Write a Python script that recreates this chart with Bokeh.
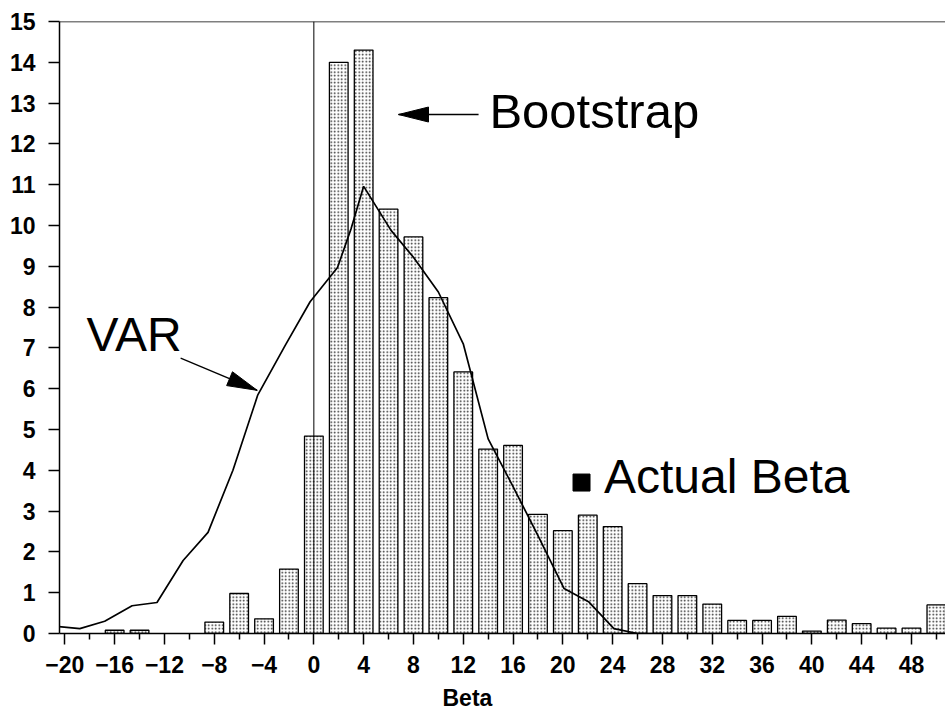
import math
from bokeh.plotting import figure
from bokeh.models import Range1d, FixedTicker, Span, Label, Title
from bokeh.embed import file_html
from bokeh.resources import INLINE

# ---- data ----
bar_x = [-16, -14, -8, -6, -4, -2, 0, 2, 4, 6, 8, 10, 12, 14, 16, 18, 20, 22, 24,
         26, 28, 30, 32, 34, 36, 38, 40, 42, 44, 46, 48, 50]
bar_h = [0.08, 0.08, 0.28, 0.98, 0.36, 1.58, 4.84, 14.0, 14.3, 10.4, 9.72, 8.23, 6.41,
         4.52, 4.61, 2.92, 2.52, 2.9, 2.62, 1.22, 0.93, 0.93, 0.72, 0.32, 0.32, 0.42,
         0.06, 0.33, 0.24, 0.13, 0.13, 0.7]

var_x = [-20.6, -18.8, -16.8, -14.6, -12.6, -10.5, -8.5, -6.5, -4.5, -2.3, -0.3, 1.9,
         3.0, 4.0, 6.2, 8.0, 10.0, 12.0, 14.0, 16.0, 18.0, 20.1, 22.1, 24.1, 26.0, 28.0, 30.0]
var_y = [0.17, 0.12, 0.30, 0.68, 0.76, 1.79, 2.48, 4.0, 5.85, 7.06, 8.13, 8.97,
         9.93, 10.96, 9.88, 9.22, 8.37, 7.1, 4.77, 3.6, 2.4, 1.1, 0.77, 0.12, 0.0, 0.0, 0.0]

x_major = [-20, -16, -12, -8, -4, 0, 4, 8, 12, 16, 20, 24, 28, 32, 36, 40, 44, 48]
x_minor = [-18, -14, -10, -6, -2, 2, 6, 10, 14, 18, 22, 26, 30, 34, 38, 42, 46, 50]
y_ticks = list(range(0, 16))

actual_beta_x = [21.5]
actual_beta_y = [3.70]

# ---- figure ----
W, H = 945, 717
BL, BR, BT, BB = 59, 0, 21, 84
FW = W - BL - BR
FH = H - BT - BB
X0 = -20.43
X1 = X0 + FW / 12.45
Y0, Y1 = 0, 15

p = figure(width=W, height=H, x_range=Range1d(X0, X1), y_range=Range1d(Y0, Y1),
           output_backend="svg", toolbar_location=None,
           min_border_left=BL, min_border_right=BR, min_border_top=BT, min_border_bottom=BB)
p.outline_line_color = None
p.xgrid.visible = False
p.ygrid.visible = False
p.background_fill_color = "white"
p.border_fill_color = "white"

FONT = "Liberation Sans"

for ax in (p.xaxis[0], p.yaxis[0]):
    ax.axis_line_color = "black"
    ax.axis_line_width = 1.5
    ax.major_tick_line_color = "black"
    ax.major_tick_line_width = 1.5
    ax.major_tick_out = 11
    ax.major_tick_in = 0
    ax.major_label_text_font = FONT
    ax.major_label_text_font_style = "bold"
    ax.major_label_text_font_size = "23px"
    ax.major_label_text_color = "black"

p.xaxis.ticker = FixedTicker(ticks=x_major, minor_ticks=x_minor)
p.xaxis.minor_tick_line_color = "black"
p.xaxis.minor_tick_line_width = 1.5
p.xaxis.minor_tick_out = 6
p.xaxis.minor_tick_in = 0
p.xaxis.major_label_standoff = 11

p.yaxis.ticker = FixedTicker(ticks=y_ticks)
p.yaxis.minor_tick_line_color = None
p.yaxis.major_label_standoff = 13

# x-axis title, placed left of centre as in the original
p.add_layout(Title(text="Beta", align="left", offset=383, text_font=FONT,
                   text_font_size="23px", text_font_style="bold", text_color="black",
                   standoff=14), "below")

# frame top line and zero line
p.add_layout(Span(location=15, dimension="width", line_color="black", line_width=1.5))
p.add_layout(Span(location=0, dimension="height", line_color="black", line_width=1))

# bars (bootstrap histogram)
p.vbar(x=bar_x, top=bar_h, bottom=0, width=1.5, fill_color="white",
       line_color="black", line_width=1.3,
       hatch_pattern="dot", hatch_color="black", hatch_scale=3.5, hatch_weight=1.0, hatch_alpha=0.85)

# VAR line
p.line(var_x, var_y, line_color="black", line_width=1.7)

# actual beta marker
p.scatter(actual_beta_x, actual_beta_y, marker="square", size=17, color="black")

# ---- annotations ----
XPX = FW / (X1 - X0)
YPX = FH / (Y1 - Y0)

def arrow(tail, tip, length=30, half=7.5):
    p.line([tail[0], tip[0]], [tail[1], tip[1]], line_color="black", line_width=1.3)
    dx = (tip[0] - tail[0]) * XPX
    dy = (tip[1] - tail[1]) * YPX
    d = math.hypot(dx, dy)
    ux, uy = dx / d, dy / d
    nx, ny = -uy, ux
    bx = tip[0] * XPX - ux * length
    by = tip[1] * YPX - uy * length
    xs = [tip[0], (bx + nx * half) / XPX, (bx - nx * half) / XPX]
    ys = [tip[1], (by + ny * half) / YPX, (by - ny * half) / YPX]
    p.patch(xs, ys, fill_color="black", line_color="black")

arrow((13.23, 12.72), (6.8, 12.72))
arrow((-10.7, 6.75), (-4.55, 5.96))

p.add_layout(Label(x=14.1, y=12.8, text="Bootstrap", text_font=FONT, text_font_size="49px",
                   text_baseline="alphabetic", text_color="black"))
p.add_layout(Label(x=-18.26, y=7.34, text="VAR", text_font=FONT, text_font_size="48px",
                   text_baseline="alphabetic", text_color="black"))
p.add_layout(Label(x=23.3, y=3.85, text="Actual Beta", text_font=FONT, text_font_size="48px",
                   text_baseline="alphabetic", text_color="black"))

open("out.html", "w").write(file_html(p, INLINE))
